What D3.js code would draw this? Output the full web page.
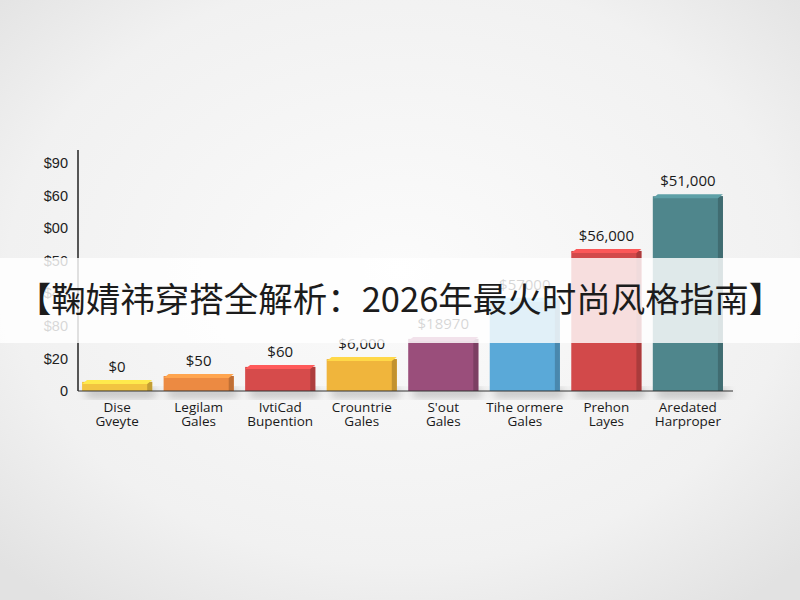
<!DOCTYPE html>
<html>
<head>
<meta charset="utf-8">
<script src="https://cdn.jsdelivr.net/npm/d3@7"></script>
<style>
  body { margin: 0; background: #f3f3f3; }
  svg { display: block; font-family: "Open Sans", "DejaVu Sans", sans-serif; }
</style>
</head>
<body>
<div id="chart"></div>
<script>
var categories = [
  ["Dise", "Gveyte"], ["Legilam", "Gales"], ["IvtiCad", "Bupention"], ["Crountrie", "Gales"],
  ["S'out", "Gales"], ["Tihe ormere", "Gales"], ["Prehon", "Layes"], ["Aredated", "Harproper"]
];
// bar heights in tick steps
var values = [0.28, 0.46, 0.74, 0.98, 1.6, 2.8, 4.3, 5.98];
var valueLabels = ["$0", "$50", "$60", "$6,000", "$18970", "$57000", "$56,000", "$51,000"];
var barColors = ["#f2c440", "#ec8a42", "#d64b4b", "#f0b53c", "#9a4e7b", "#5aa9d8", "#d2494a", "#4f868c"];
var tickLabels = ["0", "$20", "$80", "$40", "$50", "$00", "$60", "$90"];
var title = "【鞠婧祎穿搭全解析：2026年最火时尚风格指南】";

var width = 800, height = 600;
var margin = {top: 163, left: 78, right: 73, bottom: 209};

var svg = d3.select("#chart").append("svg")
    .attr("width", width)
    .attr("height", height);

var defs = svg.append("defs");
var bg = defs.append("radialGradient").attr("id", "bg")
    .attr("cx", "50%").attr("cy", "45%").attr("r", "70%");
bg.append("stop").attr("offset", "0%").attr("stop-color", "#fbfbfb");
bg.append("stop").attr("offset", "70%").attr("stop-color", "#f1f1f1");
bg.append("stop").attr("offset", "100%").attr("stop-color", "#e2e2e2");
var blur = defs.append("filter").attr("id", "shadow")
    .attr("x", "-30%").attr("y", "-30%").attr("width", "160%").attr("height", "160%");
blur.append("feGaussianBlur").attr("stdDeviation", 5);

svg.append("rect").attr("width", width).attr("height", height).attr("fill", "url(#bg)");

var x = d3.scaleBand()
    .domain(d3.range(categories.length))
    .range([margin.left, width - margin.right])
    .paddingInner(0.14)
    .paddingOuter(0.05);

var y = d3.scaleLinear()
    .domain([0, tickLabels.length - 1])
    .range([height - margin.bottom, margin.top]);

// y axis
var yAxis = svg.append("g")
    .attr("transform", "translate(" + margin.left + ",0)")
    .call(d3.axisLeft(y)
      .tickValues(d3.range(tickLabels.length))
      .tickSize(0)
      .tickPadding(10)
      .tickFormat(function(d) { return tickLabels[d]; }));
yAxis.select(".domain").remove();
yAxis.selectAll("text")
    .style("font-size", "14.5px")
    .attr("fill", "#222");
svg.append("line")
    .attr("x1", margin.left).attr("x2", margin.left)
    .attr("y1", margin.top - 13).attr("y2", y(0))
    .attr("stroke", "#222").attr("stroke-width", 1.5);

// bars
var depth = 5;
var bars = svg.selectAll(".bar")
  .data(values)
  .enter()
  .append("g")
    .attr("class", "bar");

bars.append("rect")
    .attr("x", function(d, i) { return x(i) + 4; })
    .attr("y", function(d) { return y(0) - 2; })
    .attr("width", x.bandwidth())
    .attr("height", 8)
    .attr("fill", "rgba(0,0,0,0.25)")
    .attr("filter", "url(#shadow)");

bars.append("rect")
    .attr("x", function(d, i) { return x(i); })
    .attr("y", function(d) { return y(d); })
    .attr("width", x.bandwidth())
    .attr("height", function(d) { return y(0) - y(d); })
    .attr("fill", function(d, i) { return barColors[i]; });

// darker side face
bars.append("rect")
    .attr("x", function(d, i) { return x(i) + x.bandwidth() - depth; })
    .attr("y", function(d) { return y(d); })
    .attr("width", depth)
    .attr("height", function(d) { return y(0) - y(d); })
    .attr("fill", function(d, i) { return d3.color(barColors[i]).darker(0.6); });

// lighter top face
bars.append("polygon")
    .attr("points", function(d, i) {
      var x0 = x(i), x1 = x(i) + x.bandwidth(), t = y(d);
      return [[x0, t + 2], [x0 + depth, t - 2], [x1, t - 2], [x1 - depth, t + 2]].join(" ");
    })
    .attr("fill", function(d, i) { return d3.color(barColors[i]).brighter(0.5); });

bars.append("text")
    .attr("x", function(d, i) { return x(i) + x.bandwidth() / 2; })
    .attr("y", function(d) { return y(d) - 10; })
    .attr("text-anchor", "middle")
    .style("font-size", "15px")
    .attr("fill", "#1a1a1a")
    .text(function(d, i) { return valueLabels[i]; });

// x axis line
svg.append("line")
    .attr("x1", margin.left).attr("x2", width - 67)
    .attr("y1", y(0)).attr("y2", y(0))
    .attr("stroke", "#333").attr("stroke-width", 1.2);

// category labels
var catText = svg.selectAll(".cat")
  .data(categories)
  .enter()
  .append("text")
    .attr("class", "cat")
    .attr("text-anchor", "middle")
    .attr("x", function(d, i) { return x(i) + x.bandwidth() / 2; })
    .attr("y", y(0) + 21)
    .style("font-size", "13.5px")
    .attr("fill", "#1a1a1a");
catText.selectAll("tspan")
  .data(function(d) { return d; })
  .enter()
  .append("tspan")
    .attr("x", function() { return d3.select(this.parentNode).attr("x"); })
    .attr("dy", function(d, j) { return j ? 14 : 0; })
    .text(function(d) { return d; });

// title banner over the chart
svg.append("rect")
    .attr("x", 0).attr("y", 258)
    .attr("width", width).attr("height", 85)
    .attr("fill", "#ffffff").attr("opacity", 0.82);

svg.append("text")
    .attr("x", width / 2)
    .attr("y", 312)
    .attr("text-anchor", "middle")
    .style("font-family", "'Noto Sans CJK SC', sans-serif")
    .style("font-size", "34.5px")
    .attr("fill", "#1c1c1c")
    .text(title);
</script>
</body>
</html>
